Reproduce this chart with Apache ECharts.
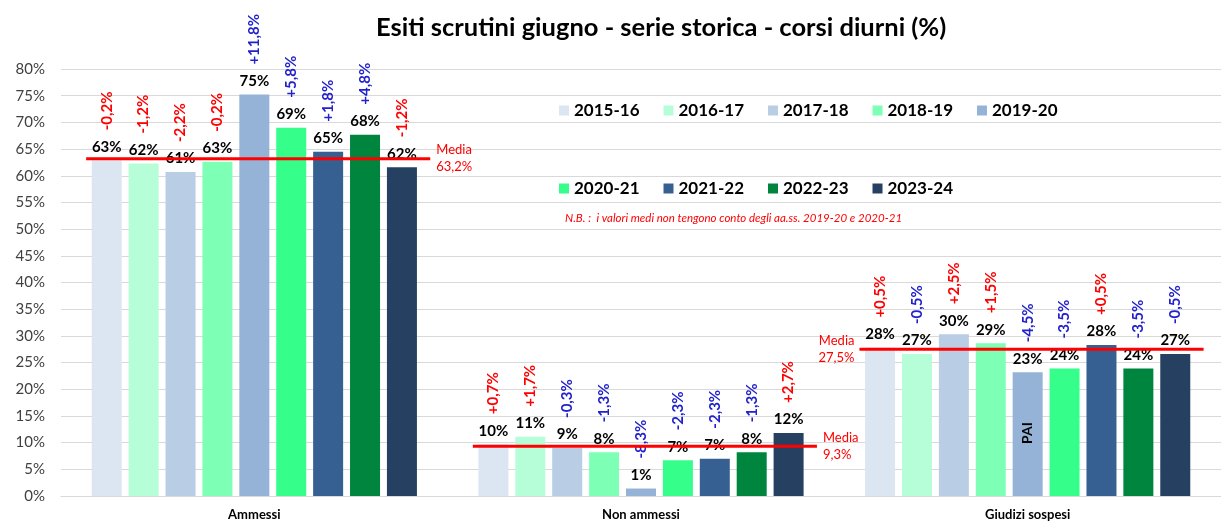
<!DOCTYPE html>
<html>
<head>
<meta charset="utf-8">
<script src="https://cdn.jsdelivr.net/npm/echarts@6/dist/echarts.min.js"></script>
<style>html,body{margin:0;padding:0;background:#fff}#c{width:1221px;height:524px}</style>
</head>
<body>
<div id="c"></div>
<script>
// ---- data ----
const categories = ['Ammessi', 'Non ammessi', 'Giudizi sospesi'];
const years = ['2015-16','2016-17','2017-18','2018-19','2019-20','2020-21','2021-22','2022-23','2023-24'];
const ammessi   = [62.9, 62.3, 60.7, 62.6, 75.2, 69.0, 64.5, 67.7, 61.6];
const nonAmmessi= [9.7, 11.1, 9.0, 8.2, 1.4, 6.7, 7.0, 8.2, 11.8];
const sospesi   = [27.8, 26.6, 30.3, 28.6, 23.2, 23.9, 28.3, 23.9, 26.6];
const deltaAmmessi    = [-0.2, -1.2, -2.2, -0.2, 11.8, 5.8, 1.8, 4.8, -1.2];
const deltaNonAmmessi = [0.7, 1.7, -0.3, -1.3, -8.3, -2.3, -2.3, -1.3, 2.7];
const deltaSospesi    = [0.5, -0.5, 2.5, 1.5, -4.5, -3.5, 0.5, -3.5, -0.5];
const means = [63.2, 9.3, 27.5];
const yTicks = [0, 80, 5];
const colors = ['#DCE6F2','#B5FED8','#B9CDE5','#7DFFB5','#95B3D7','#35FE8A','#376092','#00853E','#254061'];

const values = [ammessi, nonAmmessi, sospesi];
const deltas = [deltaAmmessi, deltaNonAmmessi, deltaSospesi];
const FONT = 'Lato, "Open Sans", sans-serif';
const RED = '#FF0000', BLUE = '#2222CC';

function fmt(v, sign) {
  const s = Math.abs(v).toFixed(1).replace('.', ',');
  return (sign ? (v >= 0 ? '+' : '-') : '') + s + '%';
}

const series = [];
years.forEach((y, i) => {
  series.push({
    type: 'bar', name: y, stack: 's' + i,
    barWidth: 30, barGap: '23%',
    itemStyle: { color: colors[i] },
    data: values.map(v => v[i]),
    label: {
      show: true, position: 'top', distance: 6,
      formatter: p => Math.round(p.value) + '%',
      fontFamily: FONT, fontWeight: 'bold', fontSize: 15, color: '#000'
    },
    markPoint: i === 4 ? {
      symbol: 'rect', symbolSize: 1,
      itemStyle: { color: 'rgba(0,0,0,0)' },
      data: [{ coord: [categories[2], 11.8], value: 'PAI' }],
      label: { show: true, position: 'inside', formatter: 'PAI', rotate: 90, fontFamily: FONT, fontWeight: 'bold', fontSize: 14, color: '#000' }
    } : undefined
  });
  series.push({
    type: 'bar', name: y + ' var', stack: 's' + i,
    barWidth: 30, barGap: '23%',
    itemStyle: { color: 'rgba(0,0,0,0)' },
    data: deltas.map((d, c) => {
      const bad = c === 0 ? d[i] < 0 : d[i] > 0;
      return { value: 0, delta: d[i], label: { color: bad ? RED : BLUE } };
    }),
    label: {
      show: true, position: 'top', distance: 30, rotate: 90,
      align: 'left', verticalAlign: 'middle',
      formatter: p => fmt(p.data.delta, true),
      fontFamily: FONT, fontWeight: 'bold', fontSize: 15
    },
    silent: true
  });
});

series.push({
  type: 'custom', name: 'media', z: 10,
  data: means.map((m, i) => [i, m]),
  renderItem: (params, api) => {
    const idx = api.value(0);
    const c = api.coord([idx, api.value(1)]);
    const band = api.size([1, 0])[0];
    const x1 = c[0] - 0.435 * band, x2 = c[0] + 0.455 * band;
    const right = idx < 2;
    return {
      type: 'group',
      children: [
        { type: 'line', shape: { x1: x1, y1: c[1], x2: x2, y2: c[1] }, style: { stroke: RED, lineWidth: 3 } },
        { type: 'text', x: right ? x2 + 6 : x1 - 5, y: c[1],
          style: { text: 'Media\n' + fmt(api.value(1), false), fill: RED, font: '13px ' + FONT,
                   align: right ? 'left' : 'right', verticalAlign: 'middle', lineHeight: 17 } }
      ]
    };
  }
});

const legendBase = {
  icon: 'rect', itemWidth: 10, itemHeight: 10, itemGap: 24, left: 554,
  textStyle: { fontFamily: FONT, fontWeight: 'bold', fontSize: 17, color: '#000' }
};

const chart = echarts.init(document.getElementById('c'), null, { renderer: 'canvas' });
chart.setOption({
  animation: false,
  title: {
    text: 'Esiti scrutini giugno - serie storica - corsi diurni (%)',
    left: 371, top: 10,
    textStyle: { fontFamily: FONT, fontWeight: 'bold', fontSize: 25.5, color: '#000' }
  },
  legend: [
    Object.assign({}, legendBase, { top: 97, data: years.slice(0, 5) }),
    Object.assign({}, legendBase, { top: 175, data: years.slice(5) })
  ],
  graphic: [{
    type: 'text', left: 565, top: 212,
    style: { text: 'N.B. :  i valori medi non tengono conto degli aa.ss. 2019-20 e 2020-21',
             fill: RED, font: 'italic 11.5px ' + FONT }
  }],
  grid: { left: 61, right: -8, top: 69, bottom: 28 },
  xAxis: {
    type: 'category', data: categories,
    axisLine: { lineStyle: { color: '#D9D9D9', width: 1 } },
    axisTick: { show: false },
    axisLabel: { fontFamily: FONT, fontWeight: 'bold', fontSize: 13, color: '#000', margin: 12 }
  },
  yAxis: {
    type: 'value', min: yTicks[0], max: yTicks[1], interval: yTicks[2],
    axisLine: { show: false }, axisTick: { show: false },
    splitLine: { lineStyle: { color: '#D9D9D9' } },
    axisLabel: { formatter: '{value}%', fontFamily: FONT, fontSize: 15, color: '#404040', margin: 16 }
  },
  series: series
});
</script>
</body>
</html>
